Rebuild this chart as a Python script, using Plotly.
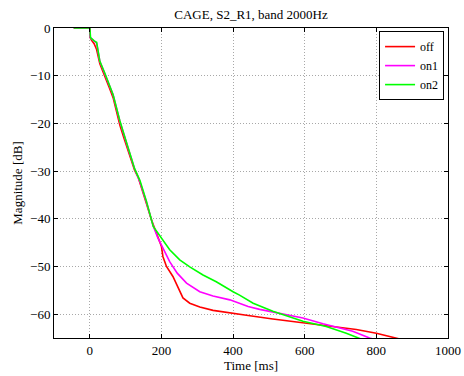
import plotly.graph_objects as go

title_text = "CAGE, S2_R1, band 2000Hz"
series_names = ["off", "on1", "on2"]
series_colors = ["#ff0000", "#ff00ff", "#00ff00"]

t_off = [-45, 0, 1, 5, 12, 19, 28, 42, 55, 65, 84, 95, 107, 125, 135, 140, 158, 172, 186, 200, 204, 214, 232, 250, 260, 279, 307, 344, 391, 442, 511, 595, 679, 744, 800, 855, 870]
y_off = [0, 0, -2, -2.6, -3.3, -4.5, -7.5, -10.0, -12.6, -14.6, -20.4, -23.0, -25.9, -29.8, -31.3, -32.6, -36.8, -40.2, -43.0, -45.8, -47.9, -50.0, -52.1, -54.9, -56.6, -57.7, -58.5, -59.2, -59.8, -60.3, -61.0, -61.8, -62.6, -63.2, -64.0, -65.0, -65.3]

t_on1 = [-45, 0, 1, 5, 12, 19, 28, 42, 55, 65, 84, 95, 107, 125, 140, 158, 177, 190, 204, 223, 244, 270, 307, 344, 391, 418, 442, 474, 530, 595, 651, 734, 781, 795]
y_on1 = [0, 0, -2, -2.3, -2.8, -3.2, -7.0, -9.6, -12.2, -14.0, -19.6, -22.5, -25.2, -29.5, -32.3, -36.5, -41.5, -44.0, -46.2, -49.0, -51.4, -53.5, -55.3, -56.2, -57.0, -57.8, -58.4, -59.0, -59.9, -60.8, -62.0, -63.6, -65.0, -65.3]

t_on2 = [-45, 0, 2, 8, 12, 19, 28, 42, 55, 65, 84, 95, 107, 125, 140, 158, 177, 200, 223, 251, 279, 316, 353, 400, 418, 456, 511, 595, 660, 716, 748, 760]
y_on2 = [0, 0, -2, -2.5, -2.7, -3.0, -7.0, -9.5, -12.0, -14.0, -19.5, -22.3, -25.0, -29.5, -32.0, -36.3, -41.6, -44.0, -46.5, -48.6, -50.1, -51.8, -53.2, -55.3, -56.0, -57.7, -59.4, -61.5, -62.6, -64.0, -65.0, -65.3]

x_ticks = [0, 200, 400, 600, 800, 1000]
y_ticks = [0, -10, -20, -30, -40, -50, -60]

FONT = "Liberation Serif"

fig = go.Figure()
for t, y, name, col in zip([t_off, t_on1, t_on2], [y_off, y_on1, y_on2], series_names, series_colors):
    fig.add_trace(go.Scatter(x=t, y=y, mode="lines", name=name,
                             line=dict(color=col, width=1.6)))

axis_common = dict(
    showline=True, linecolor="black", linewidth=1, mirror="ticks",
    ticks="inside", ticklen=4, tickcolor="black",
    showgrid=True, gridcolor="#a8a8a8", griddash="1px,2px", gridwidth=1,
    zeroline=False, automargin=False,
    tickfont=dict(family=FONT, size=13, color="black"),
)

fig.update_layout(
    width=464, height=376,
    margin=dict(l=54, r=16, t=28, b=38),
    paper_bgcolor="white", plot_bgcolor="white",
    font=dict(family=FONT, size=13, color="black"),
    title=dict(text=title_text, x=0.5, xanchor="center", y=0.975, yanchor="top",
               xref="paper", font=dict(family=FONT, size=13, color="black")),
    showlegend=True,
    legend=dict(x=0.99, y=0.99, xanchor="right", yanchor="top",
                bordercolor="black", borderwidth=1, bgcolor="white",
                font=dict(family=FONT, size=12, color="black"),
                itemwidth=30, tracegroupgap=0),
)
fig.update_xaxes(range=[-100, 1000], tickvals=x_ticks, ticktext=[str(v) for v in x_ticks],
                 title=dict(text="Time [ms]", standoff=0,
                            font=dict(family=FONT, size=13, color="black")),
                 **axis_common)
fig.update_yaxes(range=[-65, 0], tickvals=y_ticks,
                 title=dict(text="Magnitude [dB]", standoff=4,
                            font=dict(family=FONT, size=13, color="black")),
                 **axis_common)

fig.write_html("out.html", config={"displayModeBar": False},
               post_script="document.body.style.margin='0';document.body.style.overflow='hidden';")
